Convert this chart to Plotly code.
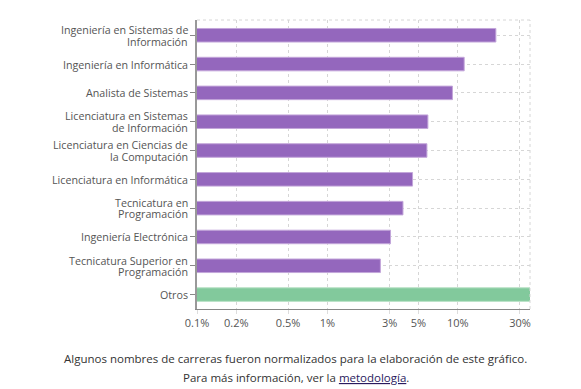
import plotly.graph_objects as go

categories = [
    "Ingeniería en Sistemas de<br>Información",
    "Ingeniería en Informática",
    "Analista de Sistemas",
    "Licenciatura en Sistemas<br>de Información",
    "Licenciatura en Ciencias de<br>la Computación",
    "Licenciatura en Informática",
    "Tecnicatura en<br>Programación",
    "Ingeniería Electrónica",
    "Tecnicatura Superior en<br>Programación",
    "Otros",
]
values_pct = [19.6, 11.2, 9.1, 5.9, 5.8, 4.5, 3.8, 3.05, 2.55, 40.0]
bar_colors = ["#9467bd"] * 9 + ["#82c99c"]
line_colors = ["#c3a6da"] * 9 + ["#b6e0c4"]

tick_vals = [0.1, 0.2, 0.5, 1, 3, 5, 10, 30]
tick_text = ["0.1%", "0.2%", "0.5%", "1%", "3%", "5%", "10%", "30%"]

fig = go.Figure(go.Bar(
    x=values_pct, y=categories, orientation="h",
    marker=dict(color=bar_colors, line=dict(color=line_colors, width=1)),
    width=0.47, hoverinfo="x+y",
))

# category labels drawn as annotations (tight line spacing like the reference)
label_annotations = []
for cat in categories:
    lines = cat.split("<br>")
    n = len(lines)
    for i, ln in enumerate(lines):
        shift = (n - 1) / 2 * 11.5 - i * 11.5
        label_annotations.append(dict(
            xref="paper", yref="y", x=0, y=cat, xanchor="right", yanchor="middle",
            xshift=-7, yshift=shift - 0.5, showarrow=False, text=ln,
            font=dict(family="Open Sans", size=10.7, color="#555"),
        ))

fig.update_layout(
    width=573, height=381,
    margin=dict(l=189, r=51, t=12, b=80, autoexpand=False),
    paper_bgcolor="white", plot_bgcolor="white",
    font=dict(family="Open Sans", size=11, color="#555"),
    showlegend=False,
    xaxis=dict(
        type="log", range=[-1, 1.554],
        tickvals=tick_vals, ticktext=tick_text,
        showgrid=True, gridcolor="#d6d6d6", griddash="dot", gridwidth=1,
        showline=True, linecolor="#888", linewidth=1,
        ticks="outside", ticklen=4, tickcolor="#ddd",
        zeroline=False, tickfont=dict(size=11, color="#555"),
        automargin=False,
    ),
    yaxis=dict(
        type="category", autorange="reversed",
        showgrid=True, gridcolor="#d6d6d6", griddash="dot", gridwidth=1,
        showline=True, linecolor="#999", linewidth=2,
        ticks="outside", ticklen=5, tickcolor="#888",
        showticklabels=False,
        automargin=False,
    ),
    shapes=[
        dict(type="line", xref="paper", yref="paper", x0=0, x1=1, y0=1, y1=1,
             line=dict(color="#d6d6d6", width=1, dash="dot")),
        dict(type="line", xref="paper", yref="paper", x0=1, x1=1, y0=0, y1=1,
             line=dict(color="#d6d6d6", width=1, dash="dot")),
    ],
    annotations=label_annotations + [
        dict(xref="paper", yref="paper", x=0.297, y=-0.172,
             xanchor="center", yanchor="middle", showarrow=False,
             text="Algunos nombres de carreras fueron normalizados para la elaboración de este gráfico.",
             font=dict(size=11.5, color="#333")),
        dict(xref="paper", yref="paper", x=0.297, y=-0.238,
             xanchor="center", yanchor="middle", showarrow=False,
             text="Para más información, ver la <a href='#' style='color:#2a1a5e;text-decoration:underline'>metodología</a>.",
             font=dict(size=11.5, color="#333")),
    ],
)

fig.write_html("out.html")
